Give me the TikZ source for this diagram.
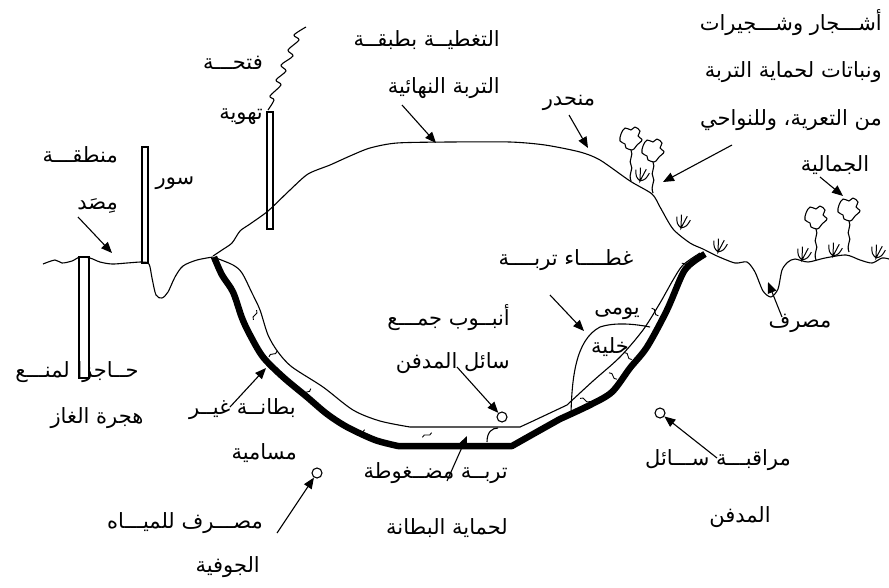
\documentclass[tikz,border=0pt]{standalone}
\usepackage{fontspec}
\newfontfamily\arabicfont[Script=Arabic]{DejaVu Sans}
\TeXXeTstate=1
\usetikzlibrary{arrows.meta}
\newcommand\rl[1]{\beginR #1\endR}

\begin{document}
\begin{tikzpicture}[x=1pt,y=-1pt,
    lbl/.style={font=\arabicfont\fontsize{21}{24}\selectfont,inner sep=0pt},
    arr/.style={-{Triangle[length=11pt,width=9pt]},line width=1.1pt},
    soil/.style={line width=1.1pt,line join=round},
    liner/.style={line width=6.5pt,line join=round},
    pipe/.style={draw,fill=white,line width=1.1pt},
    well/.style={circle,draw,line width=1.1pt,minimum size=10pt,inner sep=0pt},
    pics/tree/.style={code={
      \draw[soil] (0,0) .. controls (-3,-8) and (3,-12) .. (0,-16)
        .. controls (-3,-20) and (3,-26) .. (0,-31);
      \draw[soil,shift={(0,-42)}] plot[smooth cycle,tension=.6] coordinates
        {(1,11) (-5,9) (-6,5) (-11,2) (-10,-5) (-6,-11) (0,-9) (4,-12)
         (9,-8) (7,-3) (11,1) (6,6) (3,10)};
    }},
    pics/tuft/.style={code={
      \draw[line width=1pt] (-7,-10) .. controls (-5,-3) .. (0,0)
        .. controls (5,-3) .. (7,-10) (-3,-13) -- (0,0) -- (3,-13);
    }},
    pics/squig/.style={code={
      \draw[line width=.9pt] (-5,1) .. controls (-2,-4) and (2,4) .. (5,-1);
    }}]
  \useasboundingbox (0,0) rectangle (889,587);

  % pipes standing in the ground
  \draw[pipe] (79,257) rectangle (89,378);
  \draw[pipe] (142,147) rectangle (148,263);
  \draw[pipe] (267,112) rectangle (273,229);
  \draw[soil] plot[smooth,tension=.5] coordinates {(268,110) (274,100) (270,96)
    (281,85) (276,80) (286,71) (281,65) (293,56) (288,50) (299,40) (294,35)
    (306,27)};

  % ground left of the cell
  \draw[soil] plot[smooth,tension=.5] coordinates {(43,264) (55,260) (62,263)
    (72,261) (80,257) (90,258) (100,262) (112,264) (127,263) (142,262)
    (149,264) (152,278) (156,295) (162,298) (168,292) (175,277) (183,266)
    (197,260) (213,257)};

  % final cover, slope and ground to the right
  \draw[soil] plot[smooth,tension=.45] coordinates {(213,256) (222,250)
    (232,243) (240,231) (250,224) (268,211) (290,190) (308,174) (330,165)
    (350,156) (370,148) (397,143) (450,142) (510,142) (545,145) (580,152)
    (600,160) (630,181) (652,194) (660,207) (673,229) (690,243) (703,249)
    (717,256) (735,263) (747,262) (755,272) (763,291) (771,297) (778,289)
    (782,270) (788,262) (795,259) (808,262) (825,258) (846,255) (860,260)
    (872,263) (882,258) (889,259)};

  % liner and protective soil
  \draw[liner] plot[smooth,tension=.5] coordinates {(214,257) (222,275)
    (233,292) (242,318) (250,335) (263,357) (283,377) (307,397) (327,414)
    (347,427) (375,440) (398,446)} -- (512,446) -- (535,433)
    -- plot[smooth,tension=.5] coordinates {(560,419) (590,405) (612,392)
    (630,368) (647,347) (667,310) (683,273) (693,262) (705,254)};
  \draw[soil] plot[smooth,tension=.5] coordinates {(216,258) (233,265)
    (242,273) (252,293) (260,310) (268,335) (278,352) (292,367) (323,387)
    (353,410) (380,421) (410,427)} -- (520,427) -- (533,421)
    -- plot[smooth,tension=.5] coordinates {(567,405) (593,381) (620,357)
    (643,330) (660,303) (673,280) (683,265) (700,253)};
  \foreach \px/\py/\ang in {255/315/60, 273/354/25, 307/392/30, 360/432/15,
      427/435/15, 585/400/-30, 613/376/-50, 628/356/-55, 655/312/-60,
      686/266/-45}
    \pic[rotate=\ang] at (\px,\py) {squig};
  \draw[soil] (487,442) .. controls (487,432) and (492,428) .. (498,428);

  % daily cell
  \draw[soil] (571,413) .. controls (572,380) and (575,340) .. (600,327)
    .. controls (615,322) and (635,324) .. (650,327);

  % vegetation
  \pic at (631,181) {tree};
  \pic at (653,193) {tree};
  \pic at (816,260) {tree};
  \pic at (849,252) {tree};
  \foreach \px/\py in {640/181, 681/228, 718/252, 802/260, 833/256, 876/258}
    \pic[rotate=-15] at (\px,\py) {tuft};

  % wells
  \node[well] (collect) at (502,417) {};
  \node[well] (monitor) at (660,413) {};
  \node[well] (gwdrain) at (317,473) {};

  % labels
  \node[lbl,anchor=east] (zone1) at (118,155) {\rl{منطقـــة}};
  \node[lbl,anchor=east] (zone2) at (118,206) {\rl{مِصَد}};
  \node[lbl] (fence) at (175,183) {\rl{سور}};
  \node[lbl,anchor=east] (vent1) at (263,63) {\rl{فتحـــة}};
  \node[lbl,anchor=east] (vent2) at (263,117) {\rl{تهوية}};
  \node[lbl,anchor=east] (cap1) at (500,40) {\rl{التغطيــة بطبقــة}};
  \node[lbl,anchor=east] (cap2) at (500,88) {\rl{التربة النهائية}};
  \node[lbl] (slope) at (569,103) {\rl{منحدر}};
  \node[lbl,anchor=east] (veg1) at (882,23) {\rl{أشـــجار وشـــجيرات}};
  \node[lbl,anchor=east] (veg2) at (882,72) {\rl{ونباتات لحماية التربة}};
  \node[lbl,anchor=east] (veg3) at (882,120) {\rl{من التعرية، وللنواحي}};
  \node[lbl] (veg4) at (835,165) {\rl{الجمالية}};
  \node[lbl] (daily) at (566,260) {\rl{غطــــاء تربــــة}};
  \node[lbl] (cell1) at (617,314) {\rl{يومى}};
  \node[lbl] (cell2) at (610,347) {\rl{خلية}};
  \node[lbl,anchor=east] (pipe1) at (510,318) {\rl{أنبــوب جمـــع}};
  \node[lbl,anchor=east] (pipe2) at (510,363) {\rl{سائل المدفن}};
  \node[lbl] (drain) at (800,323) {\rl{مصرف}};
  \node[lbl] (mon1) at (718,460) {\rl{مراقبـــة ســـائل}};
  \node[lbl] (mon2) at (740,517) {\rl{المدفن}};
  \node[lbl] (gas1) at (77,372) {\rl{حــاجزا لمنـــع}};
  \node[lbl] (gas2) at (97,418) {\rl{هجرة الغاز}};
  \node[lbl,anchor=east] (lin1) at (296,409) {\rl{بطانــة غيــر}};
  \node[lbl,anchor=east] (lin2) at (297,453) {\rl{مسامية}};
  \node[lbl,anchor=east] (prot1) at (508,473) {\rl{تربــة مضــغوطة}};
  \node[lbl,anchor=east] (prot2) at (508,528) {\rl{لحماية البطانة}};
  \node[lbl,anchor=east] (gw1) at (263,523) {\rl{مصـــرف للميـــاه}};
  \node[lbl,anchor=east] (gw2) at (260,567) {\rl{الجوفية}};

  % arrow ends
  \coordinate (zoneT) at (78,217);   \coordinate (zoneH) at (112,253);
  \coordinate (capT) at (402,105);   \coordinate (capH) at (436,143);
  \coordinate (slopeT) at (569,115); \coordinate (slopeH) at (588,148);
  \coordinate (vegT) at (732,145);   \coordinate (vegH) at (663,182);
  \coordinate (veg4T) at (820,177);  \coordinate (veg4H) at (843,196);
  \coordinate (drainT) at (782,317); \coordinate (drainH) at (768,282);
  \coordinate (dailyT) at (550,295); \coordinate (dailyH) at (584,331);
  \coordinate (pipeT) at (457,367);
  \coordinate (monT) at (717,458);
  \coordinate (protT) at (447,481);  \coordinate (protH) at (467,436);
  \coordinate (gwT) at (277,533);
  \coordinate (linT) at (230,407);   \coordinate (linH) at (266,368);

  \draw[arr] (zoneT) -- (zoneH);
  \draw[arr] (capT) -- (capH);
  \draw[arr] (slopeT) -- (slopeH);
  \draw[arr] (vegT) -- (vegH);
  \draw[arr] (veg4T) -- (veg4H);
  \draw[arr] (drainT) -- (drainH);
  \draw[arr] (dailyT) -- (dailyH);
  \draw[arr] (pipeT) -- (collect);
  \draw[arr] (monT) -- (monitor);
  \draw[arr] (protT) -- (protH);
  \draw[arr] (gwT) -- (gwdrain);
  \draw[arr] (linT) -- (linH);
\end{tikzpicture}
\end{document}
